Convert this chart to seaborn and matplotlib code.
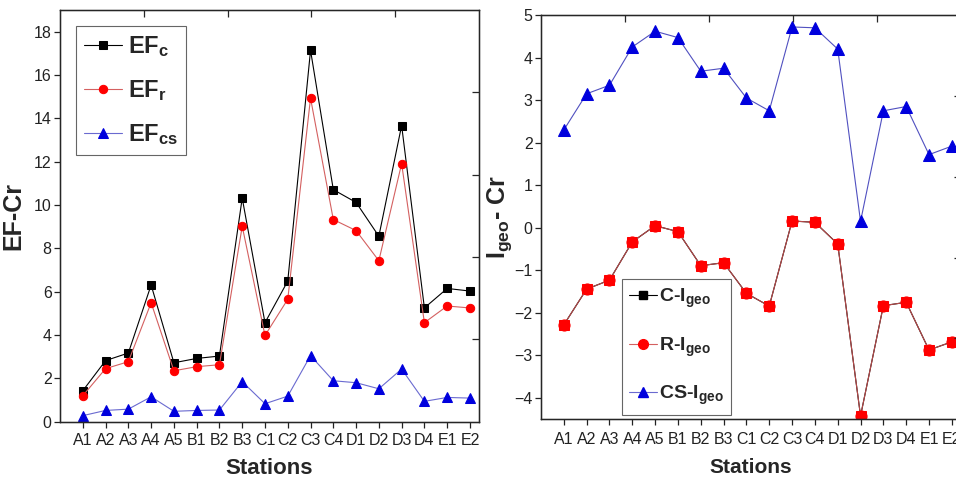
import numpy as np
import pandas as pd
import matplotlib
matplotlib.use("Agg")
import matplotlib.pyplot as plt
import seaborn as sns
from matplotlib.lines import Line2D

stations = ["A1", "A2", "A3", "A4", "A5", "B1", "B2", "B3", "C1", "C2",
            "C3", "C4", "D1", "D2", "D3", "D4", "E1", "E2"]
ef_c = [1.43, 2.82, 3.17, 6.31, 2.72, 2.92, 3.03, 10.32, 4.57, 6.49,
        17.14, 10.71, 10.12, 8.56, 13.67, 5.25, 6.15, 6.03]
ef_r = [1.20, 2.45, 2.77, 5.49, 2.35, 2.54, 2.63, 9.02, 3.98, 5.65,
        14.93, 9.33, 8.82, 7.43, 11.91, 4.57, 5.34, 5.25]
ef_cs = [0.28, 0.52, 0.58, 1.15, 0.48, 0.52, 0.54, 1.85, 0.83, 1.18,
         3.05, 1.89, 1.80, 1.52, 2.43, 0.94, 1.12, 1.09]

r_igeo = [-2.28, -1.44, -1.23, -0.33, 0.05, -0.09, -0.89, -0.82, -1.54, -1.84,
          0.16, 0.13, -0.38, -4.42, -1.83, -1.75, -2.87, -2.68]
c_igeo = [-2.28, -1.44, -1.23, -0.33, 0.05, -0.09, -0.89, -0.82, -1.54, -1.84,
          0.16, 0.13, -0.38, -4.42, -1.83, -1.75, -2.87, -2.68]
cs_igeo = [2.30, 3.15, 3.35, 4.25, 4.62, 4.47, 3.68, 3.75, 3.05, 2.75,
           4.72, 4.70, 4.20, 0.15, 2.75, 2.85, 1.72, 1.92]

sns.set_style("ticks")
FONT = "Liberation Sans"
plt.rcParams["font.family"] = [FONT, "DejaVu Sans"]
plt.rcParams["mathtext.fontset"] = "custom"
plt.rcParams["mathtext.rm"] = FONT + ":bold"
plt.rcParams["mathtext.it"] = FONT + ":bold"
plt.rcParams["mathtext.bf"] = FONT + ":bold"

df = pd.DataFrame({"Station": stations, "EFc": ef_c, "EFr": ef_r, "EFcs": ef_cs,
                   "C": c_igeo, "R": r_igeo, "CS": cs_igeo})

fig = plt.figure(figsize=(9.56, 4.79), dpi=100)
ax1 = fig.add_axes([0.0628, 0.1196, 0.4383, 0.8595])
ax2 = fig.add_axes([0.5659, 0.1246, 0.4393, 0.844])

# Left panel
sns.lineplot(data=df, x="Station", y="EFc", ax=ax1, sort=False, color="black",
             lw=0.8, marker="s", ms=5.5, mec="black", mfc="black", label="EF$_{c}$")
sns.lineplot(data=df, x="Station", y="EFr", ax=ax1, sort=False, color="#d46060",
             lw=0.8, marker="o", ms=6, mec="red", mfc="red", label="EF$_{r}$")
sns.lineplot(data=df, x="Station", y="EFcs", ax=ax1, sort=False, color="#6a6ad0",
             lw=0.8, marker="^", ms=6.5, mec="#0000dd", mfc="#0000dd", label="EF$_{cs}$")
ax1.set_xlim(-1, 17.4)
ax1.set_ylim(0, 19)
ax1.set_yticks(np.arange(0, 19, 2))
ax1.set_xlabel("Stations", fontsize=16, fontweight="bold", labelpad=7)
ax1.set_ylabel("EF-Cr", fontsize=18, fontweight="bold", labelpad=6)
leg1 = ax1.legend(loc="upper left", bbox_to_anchor=(0.038, 0.961), borderaxespad=0,
                  fancybox=False, edgecolor="#666666", framealpha=1,
                  prop={"family": FONT, "weight": "bold", "size": 17},
                  handlelength=1.6, labelspacing=0.8, borderpad=0.35,
                  handletextpad=0.25)
leg1.get_frame().set_linewidth(0.8)

# Right panel
sns.lineplot(data=df, x="Station", y="C", ax=ax2, sort=False, color="black",
             lw=0.8, marker="s", ms=7, mec="red", mfc="red", legend=False)
sns.lineplot(data=df, x="Station", y="R", ax=ax2, sort=False, color="#b84a4a",
             lw=0.8, marker="o", ms=8, mec="red", mfc="red", legend=False)
sns.lineplot(data=df, x="Station", y="CS", ax=ax2, sort=False, color="#5050c0",
             lw=0.8, marker="^", ms=9, mec="#0000dd", mfc="#0000dd", legend=False)
ax2.set_xlim(-1, 17.4)
ax2.set_ylim(-4.5, 5)
ax2.set_yticks(np.arange(-4, 6, 1))
ax2.set_xlabel("Stations", fontsize=15, fontweight="bold", labelpad=8)
ax2.set_ylabel("I$_{geo}$- Cr", fontsize=18, fontweight="bold", labelpad=0)
handles = [
    Line2D([], [], color="black", lw=0.8, marker="s", ms=6, mfc="black", mec="black"),
    Line2D([], [], color="#d46060", lw=0.8, marker="o", ms=7, mfc="red", mec="red"),
    Line2D([], [], color="#6a6ad0", lw=0.8, marker="^", ms=7, mfc="#0000dd", mec="#0000dd"),
]
leg2 = ax2.legend(handles, ["C-I$_{geo}$", "R-I$_{geo}$", "CS-I$_{geo}$"],
                  loc="lower left", bbox_to_anchor=(0.192, 0.011), borderaxespad=0,
                  fancybox=False, edgecolor="#666666", framealpha=1,
                  prop={"family": FONT, "weight": "bold", "size": 14},
                  handlelength=1.4, labelspacing=1.3, borderpad=0.4,
                  handletextpad=0.1)
leg2.get_frame().set_linewidth(0.8)

for ax, xpad in ((ax1, 4), (ax2, 5)):
    for s in ax.spines.values():
        s.set_visible(True)
        s.set_linewidth(1.0)
        s.set_color("#333333")
    ax.tick_params(axis="both", direction="out", length=4, width=0.9,
                   labelsize=11.5, pad=2, colors="#222222")
    ax.tick_params(axis="x", pad=xpad)
    # top and right axes: five equal divisions with inward ticks
    tx = ax.twiny()
    tx.set_xlim(0, 5)
    tx.set_xticks([1, 2, 3, 4])
    tx.tick_params(axis="x", direction="in", length=5, width=0.9, labeltop=False)
    ty = ax.twinx()
    ty.set_ylim(0, 5)
    ty.set_yticks([1, 2, 3, 4])
    ty.tick_params(axis="y", direction="in", length=5, width=0.9, labelright=False)

fig.savefig("out.png", dpi=100)
